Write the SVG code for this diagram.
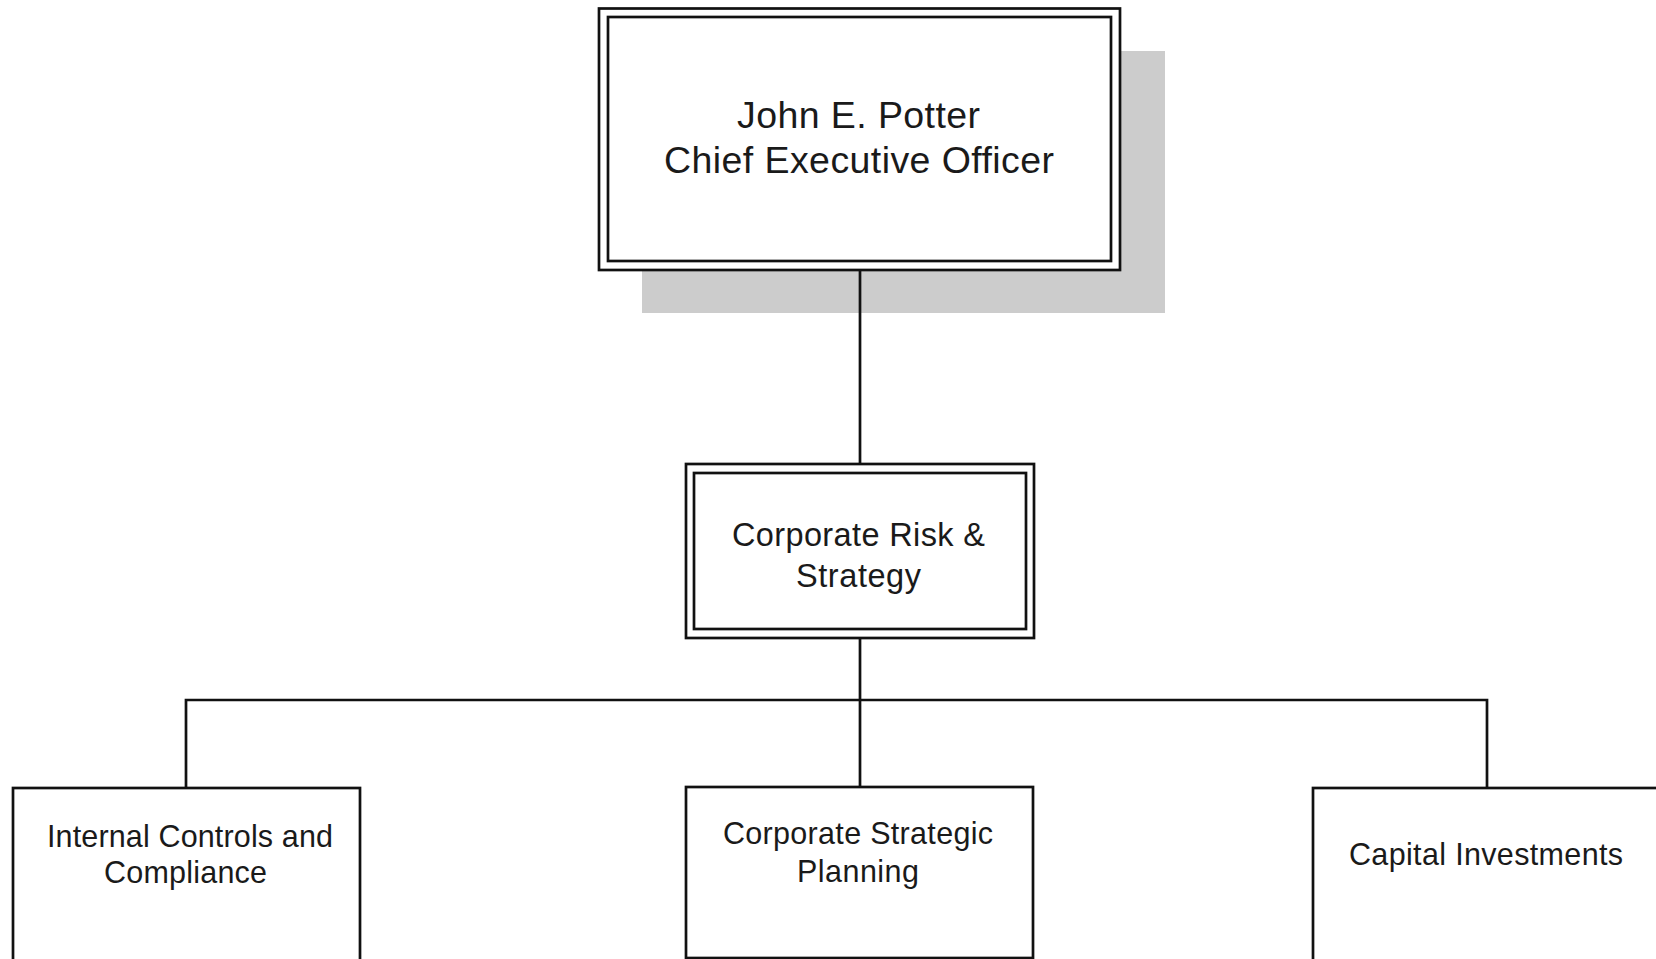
<svg xmlns="http://www.w3.org/2000/svg" width="1656" height="959" viewBox="0 0 1656 959">
<style>
.box{fill:#fff;stroke:#111;stroke-width:2.7}
.ln{fill:none;stroke:#111;stroke-width:2.7}
.t{font-family:"Liberation Sans",Arial,sans-serif;fill:#1a1a1a;text-anchor:middle}
.big{font-size:37.5px}
.mid{font-size:32.5px}
.sm{font-size:30.5px}
</style>
<rect x="0" y="0" width="1656" height="959" fill="#fff"/>
<g id="ceo">
<rect x="642" y="51" width="523" height="262" fill="#cccccc"/>
<rect class="box" x="599" y="8.5" width="521" height="261.5"/>
<rect class="box" x="608" y="17" width="503" height="244"/>
<text class="t big" x="858.5" y="128" textLength="243" lengthAdjust="spacing">John E. Potter</text>
<text class="t big" x="859" y="173" textLength="390" lengthAdjust="spacing">Chief Executive Officer</text>
</g>
<g id="risk">
<rect class="box" x="686" y="464" width="348" height="174"/>
<rect class="box" x="694" y="473" width="332" height="156"/>
<text class="t mid" x="858.5" y="546" textLength="253" lengthAdjust="spacing">Corporate Risk &amp;</text>
<text class="t mid" x="858.5" y="587" textLength="125" lengthAdjust="spacing">Strategy</text>
</g>
<g id="internal">
<rect class="box" x="13" y="788" width="347" height="240"/>
<text class="t sm" x="190" y="847" textLength="286" lengthAdjust="spacing">Internal Controls and</text>
<text class="t sm" x="185.5" y="883" textLength="163" lengthAdjust="spacing">Compliance</text>
</g>
<g id="planning">
<rect class="box" x="686" y="787" width="347" height="171"/>
<text class="t sm" x="858" y="844" textLength="270" lengthAdjust="spacing">Corporate Strategic</text>
<text class="t sm" x="858" y="882" textLength="122" lengthAdjust="spacing">Planning</text>
</g>
<g id="capital">
<rect class="box" x="1313" y="788" width="347" height="240"/>
<text class="t sm" x="1486" y="865" textLength="274" lengthAdjust="spacing">Capital Investments</text>
</g>
<g id="connectors">
<line class="ln" x1="860" y1="271" x2="860" y2="463"/>
<line class="ln" x1="860" y1="639" x2="860" y2="786"/>
<polyline class="ln" points="186,787 186,700 1487,700 1487,787"/>
</g>
</svg>
